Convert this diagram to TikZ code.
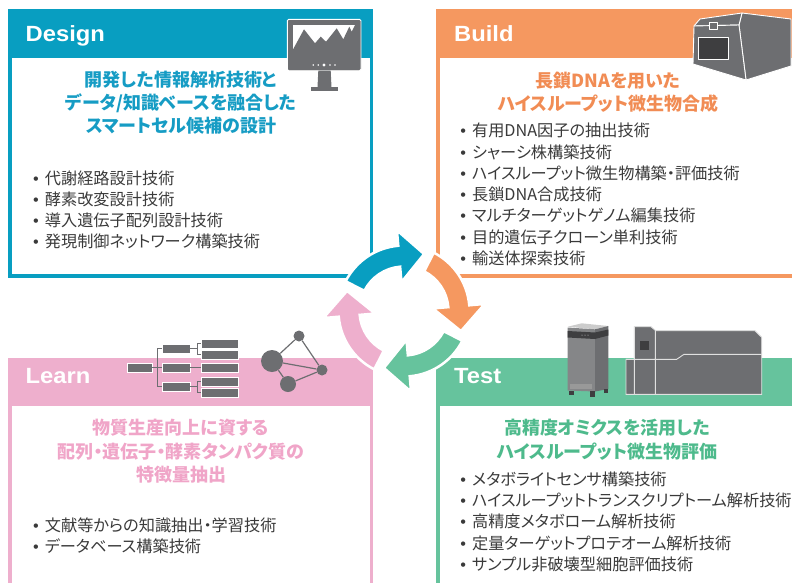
\documentclass[tikz,border=0pt]{standalone}
\usepackage{fontspec}
\usetikzlibrary{calc}
\newfontfamily\jpfont[RawFeature=+palt]{Noto Sans CJK JP}
\newfontfamily\labfont[FakeStretch=1.08]{Liberation Sans}
\newfontfamily\bulfont{Liberation Sans}

\definecolor{cDesign}{RGB}{8,158,193}
\definecolor{cBuild}{RGB}{245,152,96}
\definecolor{cLearn}{RGB}{238,175,205}
\definecolor{cTest}{RGB}{102,195,157}
\definecolor{tDesign}{RGB}{22,156,196}
\definecolor{tBuild}{RGB}{241,140,84}
\definecolor{tLearn}{RGB}{240,165,200}
\definecolor{tTest}{RGB}{78,186,140}
\definecolor{icongray}{RGB}{109,110,113}
\definecolor{iconlight}{RGB}{133,134,136}
\definecolor{icondark}{RGB}{62,62,64}
\definecolor{txtgray}{RGB}{58,58,58}

% bullet mark in front of each list entry
\newcommand{\bul}{{\bulfont •}\hspace{6pt}}

% one quarter of the PDCA-style cycle: colour, tail angle, head angle
\newcommand{\cyclearrow}[3]{%
  \filldraw[fill=#1, draw=white, line width=2.5pt, line join=miter]
    ($(cyc)+(#2:65.5)$) arc[start angle=#2, end angle=#3, radius=65.5]
    -- ($(cyc)+(#3:81)$) -- ($(cyc)+(#3:55)+(#3+90:25)$) -- ($(cyc)+(#3:29)$)
    -- ($(cyc)+(#3:44.5)$) arc[start angle=#3, end angle=#2, radius=44.5] -- cycle;}

\begin{document}
\begin{tikzpicture}[x=1pt,y=-1pt,
  frame/.style={line width=3.5pt},
  lab/.style={text=white, font=\labfont\bfseries\fontsize{22}{22}\selectfont, anchor=base west, inner sep=0pt},
  ttl/.style={font=\jpfont\bfseries\fontsize{18}{23}\selectfont, anchor=base, inner sep=0pt},
  item/.style={font=\jpfont\fontsize{16.2}{21}\selectfont, text=txtgray, anchor=base west, inner sep=0pt},
  tbox/.style={rectangle, fill=icongray, draw=white, line width=0.8pt, inner sep=0pt, minimum height=9.5pt},
  dot/.style={circle, fill=icongray, inner sep=0pt},
  wire/.style={draw=icongray, line width=1.2pt}]
\useasboundingbox (0,0) rectangle (792,582);
\clip (0,0) rectangle (792,582);

% ---------- the four panels ----------
\draw[frame, cDesign] (9.75,11) rectangle (371.25,275.75);
\fill[cDesign] (8,9.3) rectangle (373,57.5);
\draw[frame, cBuild] (438,11) rectangle (812,275.75);
\fill[cBuild] (436,9.3) rectangle (820,57.5);
\draw[frame, cLearn] (9.75,360) rectangle (371.25,600);
\fill[cLearn] (8,358) rectangle (373,406);
\draw[frame, cTest] (438,360) rectangle (812,600);
\fill[cTest] (436,358) rectangle (820,406);

\node[lab] (lD) at (25.5,41.7) {Design};
\node[lab] (lB) at (454,41.7) {Build};
\node[lab] (lL) at (25.5,383) {Learn};
\node[lab] (lT) at (454,383) {Test};

% ---------- monitor ----------
\filldraw[fill=icongray, draw=white, line width=0.9pt, rounded corners=1.5pt] (287.3,19.3) rectangle (361,70.7);
\fill[white] (292.7,25) rectangle (356,55);
\fill[icongray] (292.7,55) -- (292.7,50) -- (304,29.3) -- (315,43.3) -- (320.7,36.7) -- (326,41.7)
  -- (336.7,28.3) -- (343.3,39.3) -- (349.3,26.7) -- (351.7,31.7) -- (355,25) -- (356,25) -- (356,55) -- cycle;
\foreach \x/\r in {313.3/0.9,318.3/0.9,324/1.7,330/0.9,335/0.9}
  \fill[white] (\x,65) circle[radius=\r];
\fill[icongray] (318.3,70.7) -- (330.7,70.7) -- (331.5,87.3) -- (317.5,87.3) -- cycle;
\fill[icongray] (310.7,87.3) rectangle (338.3,90.7);

% ---------- synthesis machine ----------
\begin{scope}[draw=white, line width=0.9pt, line join=round]
  \filldraw[fill=icongray] (739,25) -- (742,13) -- (791,19) -- (791,66) -- (746,80) -- cycle;
  \filldraw[fill=icongray] (694,26) -- (700,19) -- (742,13) -- (739,25) -- cycle;
  \filldraw[fill=icongray] (694,26) -- (739,25) -- (746,80) -- (693,64) -- cycle;
  \filldraw[fill=icondark] (698,37) rectangle (728,59);
  \filldraw[fill=icongray] (709,22.5) rectangle (717.5,29.3);
\end{scope}

% ---------- tree diagram ----------
\node[tbox, minimum width=25pt] (root) at (139.5,367.8) {};
\node[tbox, minimum width=28pt] (m1) at (176,348.8) {};
\node[tbox, minimum width=28pt] (m2) at (176,367.8) {};
\node[tbox, minimum width=28pt] (m3) at (176,386.7) {};
\node[tbox, minimum width=37pt] (f1) at (219.5,343.8) {};
\node[tbox, minimum width=37pt] (f2) at (219.5,354.8) {};
\node[tbox, minimum width=37pt] (f3) at (219.5,367.8) {};
\node[tbox, minimum width=37pt] (f4) at (219.5,381.8) {};
\node[tbox, minimum width=37pt] (f5) at (219.5,392.8) {};
\draw[icongray, line width=1pt]
  (root.east) -- ++(4.7,0) coordinate (rj)
  (rj) |- (m1.west) (rj) |- (m3.west) (rj) -- (m2.west)
  (m1.east) -- ++(6.7,0) coordinate (j1) (j1) |- (f1.west) (j1) |- (f2.west)
  (m3.east) -- ++(6.7,0) coordinate (j3) (j3) |- (f4.west) (j3) |- (f5.west)
  (m2.east) -- (f3.west);

% ---------- network ----------
\node[dot, minimum size=22pt] (nb) at (272,361) {};
\node[dot, minimum size=11pt] (nt) at (299,336) {};
\node[dot, minimum size=11pt] (nr) at (322,370) {};
\node[dot, minimum size=16pt] (nd) at (288,384) {};
\begin{scope}[on background layer/.style={}]
\draw[wire] (nb) -- (nt) (nt) -- (nr) (nb) -- (nr) (nb) -- (nd) (nd) -- (nr);
\end{scope}

% ---------- tower instrument ----------
\fill[black!20] (567.7,326.7) -- (581.7,323.3) -- (608.3,326) -- (595,329.3) -- cycle;
\fill[iconlight] (567.7,327.5) -- (595,329.3) -- (595,391.5) -- (567.7,390.5) -- cycle;
\fill[icongray] (595,329.3) -- (608.3,326) -- (608.3,389) -- (595,391.5) -- cycle;
\fill[icondark] (567.7,331) -- (595,332.5) -- (595,339) -- (567.7,337.5) -- cycle;
\fill[icondark] (595,332.5) -- (608.3,329.5) -- (608.3,335.5) -- (595,339) -- cycle;
\foreach \x in {582,585,588} \fill[black!15] (\x,335.2) circle[radius=0.5];
\fill[black!40] (570,384) rectangle (592,389);
\fill[icondark] (568.5,390.5) rectangle (574,395);
\fill[icondark] (589.5,391) rectangle (595,397);
\fill[icondark] (603.5,389) rectangle (608,393);

% ---------- analyser ----------
\begin{scope}[draw=black!12, line width=0.9pt]
  \filldraw[fill=icongray] (634.3,326.7) -- (651,326.7) -- (655.7,330.7) -- (755,330.7) -- (761.7,337.3)
    -- (761.7,394.3) -- (626,394.3) -- (626,359.3) -- (634.3,359.3) -- cycle;
  \draw (634.3,326.7) -- (634.3,394.3) (655.3,330.7) -- (655.3,394.3)
    (626,359.3) -- (676.7,359.3) -- (684,354.3) -- (761.7,354.3);
\end{scope}
\fill[icondark] (640,341) rectangle (649.3,350);

% ---------- panel titles ----------
\foreach \t [count=\i] in {開発した情報解析技術と,データ/知識ベースを融合した,スマートセル候補の設計}
  \node[ttl, text=tDesign] (dh\i) at (181,86.8+23*\i-23) {\t};
\foreach \t [count=\i] in {長鎖DNAを用いた,ハイスループット微生物合成}
  \node[ttl, text=tBuild] (bh\i) at (608,87.8+23*\i-23) {\t};
\foreach \t [count=\i] in {物質生産向上に資する,配列・遺伝子・酵素タンパク質の,特徴量抽出}
  \node[ttl, text=tLearn] (lh\i) at (181,434.8+23.3*\i-23.3) {\t};
\foreach \t [count=\i] in {高精度オミクスを活用した,ハイスループット微生物評価}
  \node[ttl, text=tTest] (th\i) at (607,434.8+23.5*\i-23.5) {\t};

% ---------- technology lists ----------
\foreach \t [count=\i] in {代謝経路設計技術,酵素改変設計技術,導入遺伝子配列設計技術,発現制御ネットワーク構築技術}
  \node[item] (di\i) at (33,184.4+21.1*\i-21.1) {\bul\t};
\foreach \t [count=\i] in {有用DNA因子の抽出技術,シャーシ株構築技術,ハイスループット微生物構築・評価技術,%
    長鎖DNA合成技術,マルチターゲットゲノム編集技術,目的遺伝子クローン単利技術,輸送体探索技術}
  \node[item] (bi\i) at (460.2,136.8+21.27*\i-21.27) {\bul\t};
\foreach \t [count=\i] in {文献等からの知識抽出・学習技術,データベース構築技術}
  \node[item] (li\i) at (33,531.1+21.5*\i-21.5) {\bul\t};
\foreach \t [count=\i] in {メタボライトセンサ構築技術,ハイスループットトランスクリプトーム解析技術,%
    高精度メタボローム解析技術,定量ターゲットプロテオーム解析技術,サンプル非破壊型細胞評価技術}
  \node[item] (ti\i) at (460.2,485.4+21.2*\i-21.2) {\bul\t};

% ---------- cycle arrows ----------
\coordinate (cyc) at (404,311);
\cyclearrow{cDesign}{-153}{-95}
\cyclearrow{cBuild}{-63}{-5}
\cyclearrow{cTest}{27}{85}
\cyclearrow{cLearn}{117}{175}
\end{tikzpicture}
\end{document}
